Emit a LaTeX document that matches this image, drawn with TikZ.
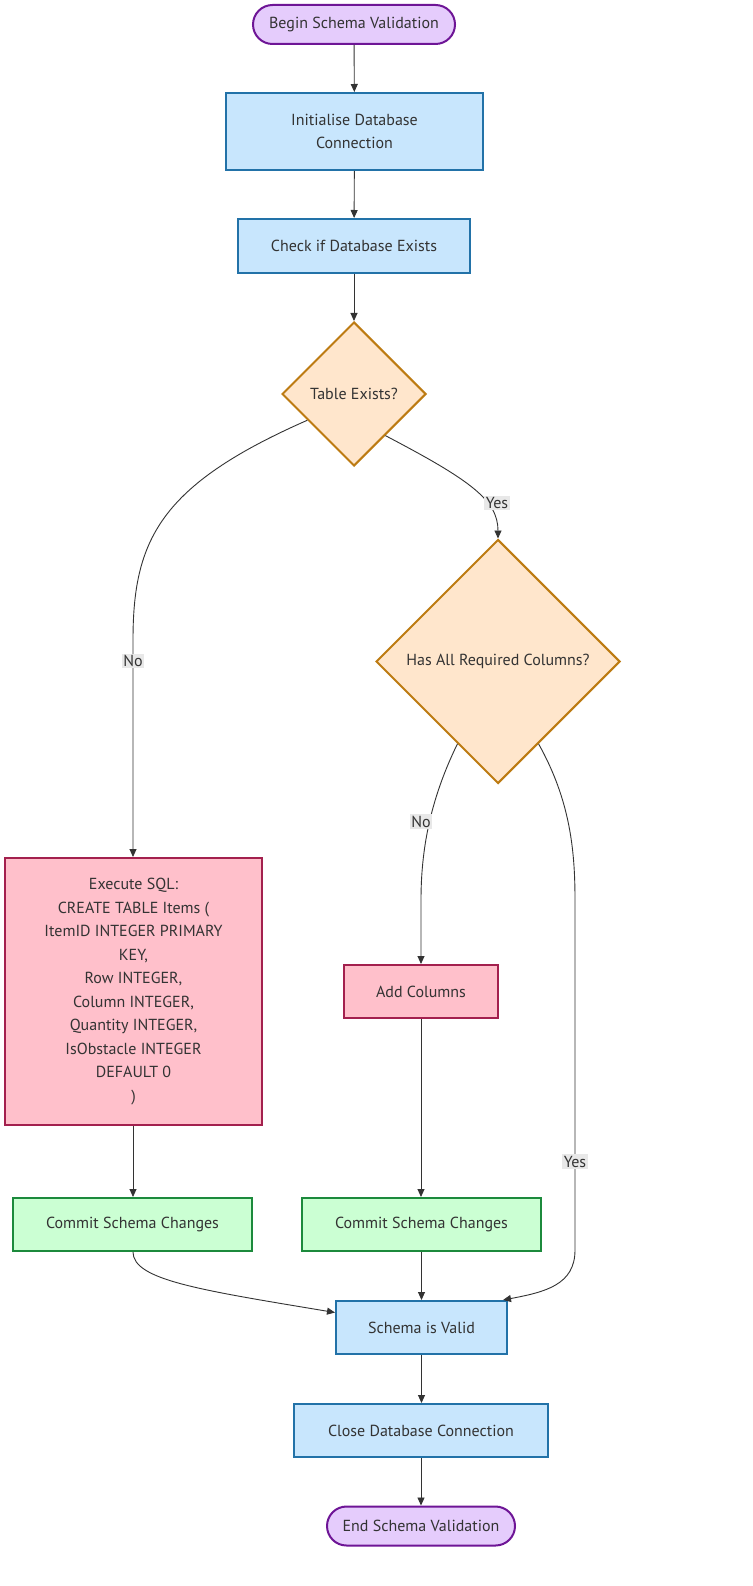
\documentclass[tikz,border=0pt]{standalone}
\usepackage{fontspec}
\setmainfont{PT Sans}
\usetikzlibrary{shapes.geometric,arrows.meta,calc}
\definecolor{txt}{HTML}{333333}
\definecolor{edge}{HTML}{333333}
\definecolor{pfill}{HTML}{E5CCFC}
\definecolor{pdraw}{HTML}{6E1596}
\definecolor{bfill}{HTML}{C8E6FD}
\definecolor{bdraw}{HTML}{2272A8}
\definecolor{ofill}{HTML}{FFE6CC}
\definecolor{odraw}{HTML}{BD7B12}
\definecolor{rfill}{HTML}{FFC0CB}
\definecolor{rdraw}{HTML}{A3204E}
\definecolor{gfill}{HTML}{CBFFD3}
\definecolor{gdraw}{HTML}{1C8A3C}
\definecolor{lblbg}{HTML}{E8E8E8}
\tikzset{
  base/.style={line width=2pt, text=txt, font=\fontsize{16}{23.5}\selectfont, align=center, inner sep=0pt},
  term/.style={base, draw=pdraw, fill=pfill, rounded corners=19.5pt, minimum height=39pt},
  bbox/.style={base, draw=bdraw, fill=bfill, minimum height=53pt},
  rbox/.style={base, draw=rdraw, fill=rfill, minimum height=53pt},
  gbox/.style={base, draw=gdraw, fill=gfill, minimum height=53pt},
  dec/.style={base, diamond, draw=odraw, fill=ofill, aspect=1},
  conn/.style={draw=edge, line width=0.9pt, -{Triangle[length=8pt,width=7pt]}},
  lbl/.style={fill=lblbg, text=txt, font=\fontsize{16}{17}\selectfont, inner sep=1.5pt}
}
\begin{document}
\begin{tikzpicture}[x=1pt,y=-1pt]
\useasboundingbox (0,0) rectangle (752,1586);
\fill[white] (0,0) rectangle (752,1586);
\node[term, minimum width=202pt] (begin) at (354,24.5) {Begin Schema Validation};
\node[bbox, minimum width=257pt, minimum height=77pt] (init) at (354.5,131.5) {Initialise Database\\Connection};
\node[bbox, minimum width=232pt, minimum height=54pt] (check) at (354,246) {Check if Database Exists};
\node[dec, minimum width=144pt, minimum height=144pt] (tab) at (354,394) {Table Exists?};
\node[dec, minimum width=244pt, minimum height=244pt] (has) at (498,661.5) {Has All Required Columns?};
\node[rbox, minimum width=257pt, minimum height=267pt] (exec) at (133.5,991.5) {Execute SQL:\\CREATE TABLE Items (\\ItemID INTEGER PRIMARY\\KEY,\\Row INTEGER,\\Column INTEGER,\\Quantity INTEGER,\\IsObstacle INTEGER\\DEFAULT 0\\)};
\node[rbox, minimum width=154pt] (add) at (421,991.5) {Add Columns};
\node[gbox, minimum width=239pt] (c1) at (132.5,1224.5) {Commit Schema Changes};
\node[gbox, minimum width=239pt] (c2) at (421.5,1224.5) {Commit Schema Changes};
\node[bbox, minimum width=171pt] (valid) at (421.5,1327.5) {Schema is Valid};
\node[bbox, minimum width=254pt] (close) at (421,1430.5) {Close Database Connection};
\node[term, minimum width=188pt] (end) at (421,1526) {End Schema Validation};

\draw[conn] (begin) -- (init);
\draw[conn] (init) -- (check);
\draw[conn] (check) -- (tab);
\draw[conn] ($(tab.west)!0.36!(tab.south)$) .. controls (160,485) and (133,540) .. (133,640) -- (exec.north -| 133,0);
\node[lbl] (lno) at (133,661) {No};
\draw[conn] ($(tab.east)!0.57!(tab.south)$) .. controls (470,480) and (498,500) .. (has.north);
\node[lbl] (lyes) at (497,503) {Yes};
\draw[conn] ($(has.west)!0.67!(has.south)$) .. controls (430,800) and (421,850) .. (421,900) -- (add.north);
\node[lbl] (lno2) at (421,821.5) {No};
\draw[conn] ($(has.east)!0.67!(has.south)$) .. controls (570,800) and (575,850) .. (575,900) -- (575,1250) .. controls (575,1285) and (545,1292) .. ($(valid.north east)+(-5,0)$);
\node[lbl] (lyes2) at (575,1161.5) {Yes};
\draw[conn] (exec.south -| 133,0) -- (c1.north -| 133,0);
\draw[conn] (add) -- (c2.north -| add);
\draw[conn] (c1.south -| 133,0) .. controls (133,1280) and (200,1290) .. ($(valid.west)+(0,-15)$);
\draw[conn] (c2.south -| valid) -- (valid);
\draw[conn] (valid) -- (close.north -| valid);
\draw[conn] (close) -- (end);
\end{tikzpicture}
\end{document}
